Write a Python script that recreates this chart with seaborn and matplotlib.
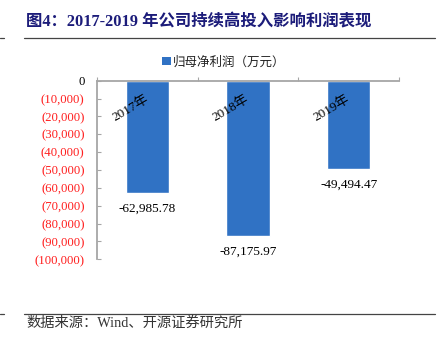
import matplotlib
matplotlib.use("Agg")
import matplotlib.pyplot as plt
from matplotlib.lines import Line2D
from matplotlib.patches import Patch
from matplotlib.ticker import FuncFormatter, FixedLocator
import seaborn as sns

# Net profit attributable to parent (10k CNY)
years = ["2017年", "2018年", "2019年"]
net_profit = [-62985.78, -87175.97, -49494.47]
series_name = "归母净利润（万元）"
title_text = "图4：2017-2019 年公司持续高投入影响利润表现"
source_text = "数据来源：Wind、开源证券研究所"

sns.set_theme(style="white")
SERIF_CJK = ["Liberation Serif", "Noto Sans CJK SC"]
plt.rcParams["font.family"] = SERIF_CJK

BAR_COLOR = "#3072c4"
AXIS_GRAY = "#a6a6a6"

fig = plt.figure(figsize=(4.42, 3.44), dpi=100)
ax = fig.add_axes([97 / 442, 1 - 259.3 / 344, 302 / 442, 178.6 / 344])

sns.barplot(x=years, y=net_profit, color=BAR_COLOR, saturation=1,
            width=0.43, ax=ax)

ax.set_ylim(-100000, 0)
ax.set_xlim(-0.5, len(years) - 0.5)

# spines: zero line on top, left axis
for side in ("right", "bottom"):
    ax.spines[side].set_visible(False)
for side in ("left", "top"):
    ax.spines[side].set_color(AXIS_GRAY)
    ax.spines[side].set_linewidth(1.3)

# y ticks in accounting style
def acct(v, _):
    if abs(v) < 0.5:
        return "0"
    return "({:,.0f})".format(abs(v))

ax.yaxis.set_major_locator(FixedLocator(range(-100000, 1, 10000)))
ax.yaxis.set_major_formatter(FuncFormatter(acct))
ax.tick_params(axis="y", direction="in", length=3, width=0.8,
               color=AXIS_GRAY, pad=9, labelsize=9.2, left=True)
for lbl in ax.get_yticklabels():
    lbl.set_fontfamily(SERIF_CJK)
    lbl.set_color("black" if lbl.get_text() == "0" else "#ff2020")

# category boundaries marked on the zero line
ax.xaxis.set_major_locator(FixedLocator([-0.5, 0.5, 1.5, 2.5]))
ax.set_xticklabels([])
ax.tick_params(axis="x", top=True, bottom=False, direction="out",
               length=3, width=0.8, color=AXIS_GRAY, labeltop=False,
               labelbottom=False)
ax.set_xlabel("")
ax.set_ylabel("")

# rotated category names just below the zero line
for i, name in enumerate(years):
    ax.text(i, -10000, name, rotation=30, rotation_mode="anchor",
            ha="right", va="center", fontsize=9.5, family=SERIF_CJK,
            color="black")

# value labels below bar ends
for i, v in enumerate(net_profit):
    ax.annotate("{:,.2f}".format(v), xy=(i, v), xytext=(0, -11),
                textcoords="offset points", ha="center", va="center",
                fontsize=9.5, family=SERIF_CJK, color="black")

# legend
handle = Patch(facecolor=BAR_COLOR, edgecolor="none", label=series_name)
leg = fig.legend(handles=[handle], loc="center", bbox_to_anchor=(224 / 442, 1 - 62 / 344),
                 frameon=False, handlelength=0.65, handleheight=0.65,
                 handletextpad=0.2, prop={"family": ["Noto Sans CJK SC"], "size": 9})
for t in leg.get_texts():
    t.set_color("#222222")

# heading and footer
fig.text(26 / 442, 1 - 22 / 344, title_text, ha="left", va="center",
         fontsize=11.8, fontweight="bold", color="#1c1c7a", family=SERIF_CJK)
fig.text(26 / 442, 1 - 322.5 / 344, source_text, ha="left", va="center",
         fontsize=10.3, color="#333333", family=SERIF_CJK)

for ypix in (37.7, 314):
    yf = 1 - ypix / 344
    fig.add_artist(Line2D([24 / 442, 435 / 442], [yf, yf], color="#444444", lw=0.9))
    fig.add_artist(Line2D([0, 4 / 442], [yf, yf], color="#444444", lw=0.9))

fig.savefig("out.png", dpi=100)
